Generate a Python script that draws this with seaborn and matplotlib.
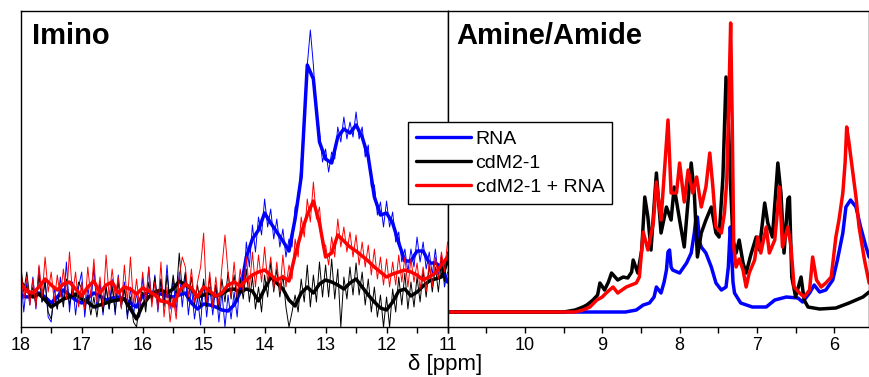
import numpy as np
import pandas as pd
import matplotlib
matplotlib.use("Agg")
import matplotlib.pyplot as plt
import seaborn as sns
from matplotlib.ticker import MultipleLocator
from matplotlib.lines import Line2D

# --- imino region (18 -> 11 ppm): smoothed traces every 0.1 ppm, raw traces every 0.05 ppm
imino_ppm = np.linspace(18, 11, 71)
imino_raw_ppm = np.linspace(18, 11, 141)

rna_smooth = [32, 30, 31, 34, 30, 24, 30, 37, 32, 27,
              24, 29, 34, 31, 27, 29, 30, 28, 24, 20,
              32, 35, 34, 33, 31, 30, 32, 34, 24, 18,
              23, 22, 20, 17, 16, 22, 35, 70, 88, 97,
              114, 104, 95, 86, 76, 108, 150, 262, 248, 185,
              168, 164, 190, 198, 194, 202, 190, 170, 130, 112,
              114, 104, 84, 66, 66, 76, 76, 64, 64, 60,
              45]
cdm_smooth = [45, 37, 30, 33, 27, 20, 24, 28, 30, 33,
              28, 25, 20, 22, 24, 26, 27, 28, 18, 8,
              22, 30, 35, 37, 34, 38, 46, 42, 38, 30,
              32, 34, 31, 33, 37, 38, 35, 38, 36, 26,
              38, 50, 44, 38, 27, 21, 34, 40, 34, 43,
              47, 45, 42, 38, 44, 48, 40, 32, 25, 19,
              17, 25, 36, 38, 31, 35, 41, 46, 48, 50,
              66]
mix_smooth = [44, 36, 34, 40, 48, 42, 37, 43, 45, 38,
              31, 40, 46, 34, 42, 45, 34, 40, 38, 33,
              39, 36, 32, 26, 25, 21, 36, 43, 39, 30,
              40, 36, 31, 34, 42, 45, 41, 47, 52, 55,
              57, 52, 47, 50, 46, 72, 94, 112, 126, 104,
              70, 74, 92, 86, 80, 76, 71, 66, 60, 55,
              50, 53, 55, 57, 55, 52, 47, 50, 54, 62,
              70]

rna_raw = [55, 15, 45, 22, 50, 18, 60, 25, 48, 10,
           5, 40, 18, 50, 25, 65, 15, 45, 12, 40,
           55, 10, 40, 20, 60, 18, 45, 12, 42, 18,
           48, 12, 52, 20, 45, 8, 40, 12, 35, 10,
           50, 20, 60, 25, 52, 15, 48, 22, 62, 18,
           48, 15, 55, 20, 52, 12, 40, 8, 30, 2,
           45, 10, 40, 12, 42, 5, 35, 0, 32, 8,
           35, 10, 50, 35, 85, 60, 102, 75, 110, 92,
           128, 100, 118, 88, 108, 80, 98, 70, 88, 80,
           120, 125, 165, 210, 262, 297, 262, 215, 195, 165,
           178, 155, 175, 168, 200, 185, 210, 188, 205, 190,
           215, 188, 200, 170, 182, 140, 142, 112, 125, 100,
           126, 100, 115, 85, 95, 65, 78, 55, 78, 60,
           90, 65, 85, 58, 75, 52, 78, 50, 72, 40,
           55]
cdm_raw = [62, 35, 55, 28, 40, 22, 52, 25, 45, 15,
           8, 30, 18, 40, 20, 48, 22, 38, 28, 45,
           38, 18, 32, 12, 30, 10, 35, 15, 40, 18,
           40, 15, 45, 20, 38, 12, 30, 5, 0, 25,
           35, 15, 45, 25, 50, 22, 48, 20, 52, 25,
           52, 30, 74, 35, 55, 28, 50, 22, 42, 20,
           48, 20, 50, 22, 42, 18, 48, 25, 55, 28,
           52, 25, 48, 28, 58, 25, 50, 18, 40, 15,
           52, 30, 65, 35, 58, 30, 52, 20, 0, 15,
           32, 15, 48, 25, 62, 20, 52, 25, 65, 30,
           62, 30, 68, 28, 58, 0, 50, 28, 60, 32,
           64, 32, 55, 22, 48, 15, 40, 10, 32, 0,
           30, 0, 38, 15, 50, 22, 54, 18, 45, 20,
           50, 25, 56, 30, 62, 35, 60, 35, 66, 45,
           75]
mix_raw = [60, 28, 50, 22, 48, 20, 62, 30, 70, 35,
           55, 25, 52, 30, 58, 28, 75, 32, 55, 20,
           45, 18, 60, 30, 68, 25, 50, 20, 72, 30,
           58, 30, 50, 18, 62, 25, 70, 22, 48, 20,
           55, 25, 60, 20, 45, 18, 65, 10, 40, 5,
           30, 8, 50, 70, 60, 30, 58, 25, 45, 60,
           94, 25, 55, 20, 50, 22, 60, 92, 55, 30,
           65, 30, 58, 35, 70, 38, 75, 40, 72, 45,
           80, 45, 70, 38, 65, 35, 72, 40, 62, 48,
           88, 70, 110, 90, 128, 105, 145, 108, 120, 80,
           82, 62, 90, 70, 108, 80, 100, 75, 95, 70,
           92, 62, 85, 60, 82, 52, 78, 48, 70, 42,
           68, 40, 65, 42, 72, 45, 70, 40, 68, 45,
           64, 38, 60, 35, 65, 40, 70, 48, 75, 55,
           85]

# --- amine/amide region (11 -> 5.55 ppm)
rna_am_ppm = [11.0, 9.0, 8.7, 8.56, 8.47, 8.39, 8.33, 8.30, 8.24, 8.20, 8.17, 8.15, 8.13,
              8.11, 8.09, 8.00, 7.91, 7.85, 7.81, 7.79, 7.77, 7.74, 7.72, 7.66, 7.59, 7.53,
              7.46, 7.40, 7.37, 7.345, 7.33, 7.31, 7.29, 7.21, 7.06, 6.88, 6.77, 6.62, 6.47,
              6.41, 6.32, 6.26, 6.19, 6.11, 6.02, 5.96, 5.89, 5.85, 5.79, 5.72, 5.66, 5.59, 5.55]
rna_am = [15, 15, 15, 17, 22, 24, 30, 40, 34, 45, 57, 75, 77,
          60, 57, 54, 64, 74, 94, 108, 110, 85, 80, 74, 60, 44,
          37, 40, 60, 100, 80, 45, 34, 24, 20, 20, 27, 30, 29,
          25, 34, 42, 35, 37, 47, 67, 94, 120, 127, 120, 100, 80, 70]

cdm_am_ppm = [11.0, 9.5, 9.35, 9.25, 9.20, 9.12, 9.06, 9.03, 8.97, 8.92, 8.88, 8.80, 8.73,
              8.67, 8.62, 8.60, 8.54, 8.49, 8.45, 8.41, 8.37, 8.30, 8.24, 8.17, 8.11, 8.07,
              8.00, 7.94, 7.89, 7.85, 7.81, 7.77, 7.72, 7.66, 7.59, 7.53, 7.49, 7.44, 7.40,
              7.37, 7.34, 7.31, 7.27, 7.23, 7.18, 7.14, 7.08, 7.01, 6.97, 6.90, 6.86, 6.80,
              6.73, 6.69, 6.65, 6.60, 6.58, 6.55, 6.50, 6.43, 6.39, 6.34, 6.19, 5.98, 5.81,
              5.63, 5.55]
cdm_am = [15, 15, 17, 20, 22, 27, 32, 44, 37, 45, 54, 47, 50,
          49, 55, 67, 54, 77, 130, 110, 77, 154, 94, 120, 107, 140,
          107, 80, 127, 164, 134, 70, 94, 107, 120, 94, 90, 150, 250,
          207, 140, 87, 74, 87, 64, 54, 72, 90, 77, 124, 104, 90,
          164, 134, 74, 128, 130, 50, 30, 50, 27, 20, 18, 19, 24,
          30, 35]

mix_am_ppm = [11.0, 9.35, 9.25, 9.16, 9.07, 9.00, 8.95, 8.86, 8.80, 8.69, 8.56, 8.52, 8.47,
              8.41, 8.34, 8.30, 8.24, 8.15, 8.11, 8.04, 8.00, 7.94, 7.89, 7.83, 7.78, 7.72,
              7.66, 7.61, 7.57, 7.53, 7.46, 7.42, 7.39, 7.36, 7.34, 7.32, 7.30, 7.27, 7.23,
              7.18, 7.14, 7.10, 7.03, 6.99, 6.95, 6.88, 6.84, 6.77, 6.73, 6.71, 6.67, 6.60,
              6.56, 6.52, 6.45, 6.39, 6.32, 6.28, 6.23, 6.17, 6.11, 6.04, 5.98, 5.94, 5.89,
              5.86, 5.84, 5.81, 5.76, 5.72, 5.68, 5.61, 5.55]
mix_am = [15, 15, 17, 20, 27, 30, 34, 40, 34, 40, 44, 50, 95,
          77, 104, 145, 107, 207, 134, 134, 164, 125, 157, 134, 150, 120,
          140, 174, 140, 100, 94, 114, 147, 240, 304, 207, 80, 60, 68,
          57, 40, 54, 67, 90, 74, 100, 74, 87, 120, 140, 80, 100,
          80, 40, 34, 30, 37, 70, 47, 40, 44, 50, 90, 107, 134,
          165, 200, 184, 154, 130, 100, 67, 44]

series = ["RNA", "cdM2-1", "cdM2-1 + RNA"]
palette = {"RNA": "#0000ff", "cdM2-1": "#000000", "cdM2-1 + RNA": "#ff0000"}


def long_df(x_map, y_map):
    parts = []
    for s in series:
        parts.append(pd.DataFrame({"ppm": x_map[s], "I": y_map[s], "sample": s}))
    return pd.concat(parts, ignore_index=True)


imino_raw = long_df({s: imino_raw_ppm for s in series},
                    {"RNA": rna_raw, "cdM2-1": cdm_raw, "cdM2-1 + RNA": mix_raw})
imino_smooth = long_df({s: imino_ppm for s in series},
                       {"RNA": rna_smooth, "cdM2-1": cdm_smooth, "cdM2-1 + RNA": mix_smooth})
amine = long_df({"RNA": rna_am_ppm, "cdM2-1": cdm_am_ppm, "cdM2-1 + RNA": mix_am_ppm},
                {"RNA": rna_am, "cdM2-1": cdm_am, "cdM2-1 + RNA": mix_am})

sns.set_style("ticks")
plt.rcParams["font.family"] = ["Liberation Sans", "DejaVu Sans"]
plt.rcParams["text.color"] = "black"
plt.rcParams["xtick.color"] = "black"

fig = plt.figure(figsize=(8.7, 3.77), dpi=100)
ax1 = fig.add_axes([0.0238, 0.1326, 0.4906, 0.8382])
ax2 = fig.add_axes([0.5144, 0.1326, 0.4846, 0.8382])

# left: raw then smoothed per sample so later samples sit on top
for s in series:
    sns.lineplot(data=imino_raw[imino_raw["sample"] == s], x="ppm", y="I", color=palette[s],
                 lw=0.7, sort=False, estimator=None, legend=False, ax=ax1)
    sns.lineplot(data=imino_smooth[imino_smooth["sample"] == s], x="ppm", y="I", color=palette[s],
                 lw=2.5, sort=False, estimator=None, legend=False, ax=ax1)

sns.lineplot(data=amine, x="ppm", y="I", hue="sample", hue_order=series, palette=palette,
             lw=2.5, sort=False, estimator=None, legend=False, ax=ax2)

ax1.set_xlim(18, 11)
ax2.set_xlim(11, 5.55)
for ax in (ax1, ax2):
    ax.set_ylim(0, 316)
    ax.set_yticks([])
    ax.set_xlabel("")
    ax.set_ylabel("")
    ax.xaxis.set_minor_locator(MultipleLocator(0.5))
    ax.tick_params(axis="x", which="both", direction="out", length=4, width=1,
                   labelsize=13, pad=3, colors="black")
    for sp in ax.spines.values():
        sp.set_visible(True)
        sp.set_color("black")
        sp.set_linewidth(1)

ax1.set_xticks(range(18, 10, -1), labels=[str(v) for v in range(18, 11, -1)] + [""])
ax2.set_xticks(range(11, 5, -1), labels=[str(v) for v in range(11, 5, -1)])

ax1.text(0.026, 0.965, "Imino", transform=ax1.transAxes, fontsize=21, fontweight="bold",
         va="top", ha="left", color="black")
ax2.text(0.02, 0.965, "Amine/Amide", transform=ax2.transAxes, fontsize=21, fontweight="bold",
         va="top", ha="left", color="black")

fig.text(0.512, 0.033, "δ [ppm]", fontsize=16, ha="center", va="center", color="black")

handles = [Line2D([], [], color=palette[s], lw=2.4) for s in series]
leg = fig.legend(handles, series, loc="upper left", bbox_to_anchor=(0.469, 0.676),
                 fontsize=14, frameon=True, fancybox=False, framealpha=1, edgecolor="black",
                 handlelength=2.8, handletextpad=0.25, labelspacing=0.33, borderpad=0.42,
                 borderaxespad=0)
leg.get_frame().set_linewidth(1)
for t in leg.get_texts():
    t.set_color("black")

fig.savefig("out.png", dpi=100)
